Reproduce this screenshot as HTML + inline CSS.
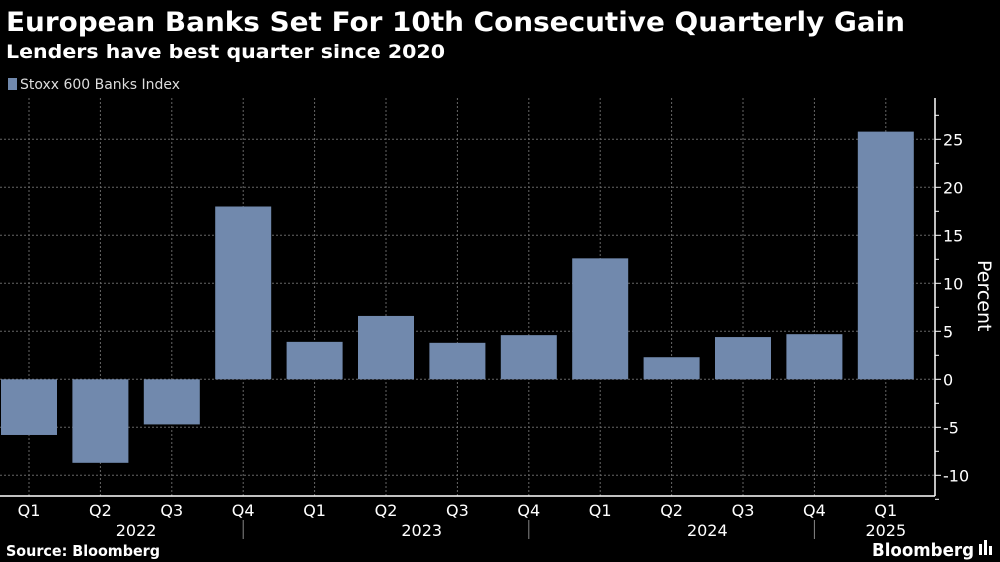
<!DOCTYPE html>
<html><head><meta charset="utf-8"><style>
body{margin:0;background:#000;width:1000px;height:562px;overflow:hidden;font-family:"DejaVu Sans","Liberation Sans",sans-serif;color:#fff}
svg{position:absolute;left:0;top:0}
</style></head><body>
<svg width="1000" height="562" font-family="DejaVu Sans, Liberation Sans, sans-serif">
<text x="6" y="31" font-size="27" font-weight="bold" fill="#fff" textLength="899" lengthAdjust="spacingAndGlyphs">European Banks Set For 10th Consecutive Quarterly Gain</text>
<text x="6" y="58" font-size="19" font-weight="bold" fill="#fff" textLength="439" lengthAdjust="spacingAndGlyphs">Lenders have best quarter since 2020</text>
<rect x="8" y="78" width="9" height="12" fill="#7189ad"/>
<text x="20" y="89" font-size="14" fill="#ddd" textLength="160" lengthAdjust="spacingAndGlyphs">Stoxx 600 Banks Index</text>
<g id="grid"></g><g id="bars"></g><g id="axes"></g>
<text x="0" y="0" font-size="19" fill="#fff" transform="translate(978,260) rotate(90)">Percent</text>
<text x="6" y="556" font-size="15" font-weight="bold" fill="#fff" textLength="154" lengthAdjust="spacingAndGlyphs">Source: Bloomberg</text>
<text x="872" y="556" font-size="18" font-weight="bold" fill="#fff" textLength="102" lengthAdjust="spacingAndGlyphs">Bloomberg</text>
<rect x="979" y="544" width="3" height="11" fill="#fff"/>
<rect x="984" y="540" width="3" height="15" fill="#fff"/>
<rect x="989" y="546" width="3" height="9" fill="#fff"/>
</svg>
<script>
const quarters=["Q1","Q2","Q3","Q4","Q1","Q2","Q3","Q4","Q1","Q2","Q3","Q4","Q1"];
const values=[-5.8,-8.7,-4.7,18.0,3.9,6.6,3.8,4.6,12.6,2.3,4.4,4.7,25.8];
const years=["2022","2023","2024","2025"];
const yearStart=[0,4,8,12];
const yTicks=[25,20,15,10,5,0,-5,-10];
const NS="http://www.w3.org/2000/svg";
const x0=29,step=71.4,bw=56,axisX=935,bottom=496;
const xc=i=>x0+i*step;
const y=v=>379.3-v*9.6;
function mk(t,a,p){const e=document.createElementNS(NS,t);for(const k in a)e.setAttribute(k,a[k]);p.appendChild(e);return e;}
const grid=document.getElementById('grid'),bars=document.getElementById('bars'),axes=document.getElementById('axes');
yTicks.forEach(t=>{
 const l=mk('line',{x1:0,x2:axisX,y1:y(t),y2:y(t),stroke:'#666','stroke-dasharray':'2,2','stroke-width':1},grid);
 
 
 const k=mk('line',{x1:axisX,x2:axisX+6,y1:y(t),y2:y(t),stroke:'#fff'},axes);
 
 
 const m=mk('line',{x1:axisX,x2:axisX+4,y1:y(t-2.5),y2:y(t-2.5),stroke:'#fff'},axes);
 
 
 const tx=mk('text',{x:axisX+8,y:y(t)+6,'font-size':16,fill:'#fff'},axes);
 tx.textContent=t;
 
 
});
const mt=mk('line',{x1:axisX,x2:axisX+4,y1:y(27.5),y2:y(27.5),stroke:'#fff'},axes);


quarters.forEach((q,i)=>{
 const g=mk('line',{x1:xc(i),x2:xc(i),y1:98,y2:bottom,stroke:'#666','stroke-dasharray':'2,2'},grid);
 
 
 const v=values[i];
 const r=mk('rect',{x:xc(i)-bw/2,width:bw,y:Math.min(y(v),y(0)),height:Math.abs(y(v)-y(0)),fill:'#7189ad'},bars);
 
 
 const tx=mk('text',{x:xc(i),y:516,'font-size':16,fill:'#fff','text-anchor':'middle'},axes);
 tx.textContent=q;
 
 
});
years.forEach((yr,j)=>{
 const s=yearStart[j],e=Math.min(s+3,quarters.length-1);
 const tx=mk('text',{x:(xc(s)+xc(e))/2,y:536,'font-size':16,fill:'#fff','text-anchor':'middle'},axes);
 tx.textContent=yr;
 
 
 if(j>0){const l=mk('line',{x1:xc(s-1),x2:xc(s-1),y1:520,y2:539,stroke:'#888'},axes);
 
 }
});
const xa=mk('line',{x1:0,x2:axisX,y1:bottom,y2:bottom,stroke:'#fff','stroke-width':1.5},axes);


const ya=mk('line',{x1:axisX,x2:axisX,y1:98,y2:bottom,stroke:'#fff','stroke-width':1.5},axes);


</script>
</body></html>
